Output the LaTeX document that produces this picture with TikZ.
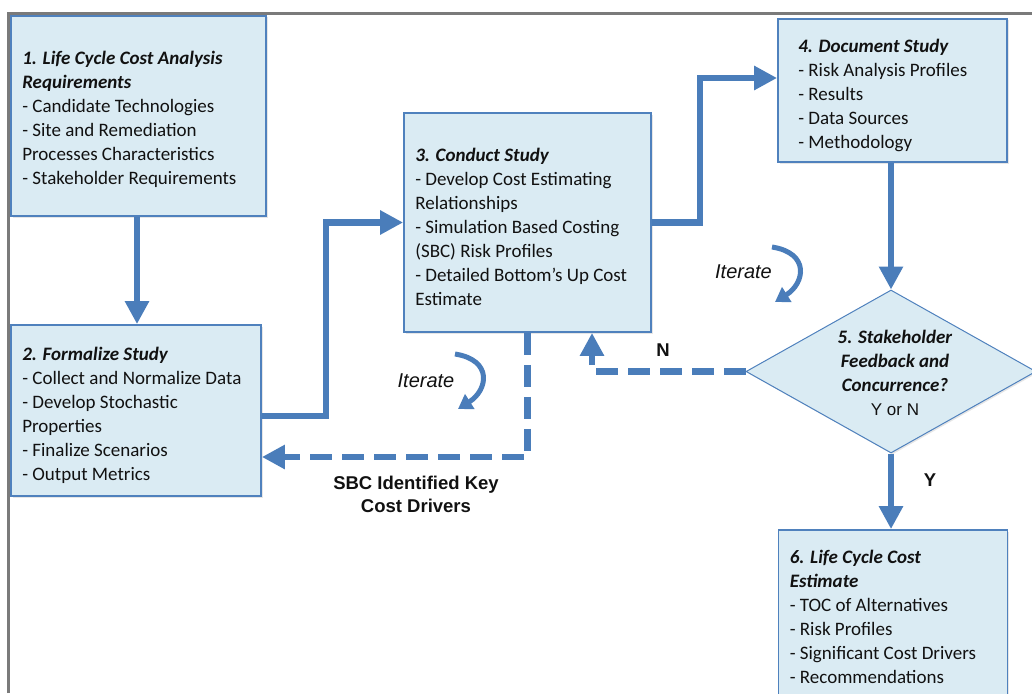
\documentclass[tikz,border=0pt]{standalone}
\usepackage{fontspec}
\setmainfont{Carlito}
\newfontfamily\arialfont{Liberation Sans}
\usetikzlibrary{arrows.meta,shapes.geometric,shadows,calc}

\definecolor{boxfill}{HTML}{DAEBF3}
\definecolor{boxline}{HTML}{4F81BD}
\definecolor{flowblue}{HTML}{4A7DBA}
\definecolor{ink}{HTML}{111111}
\definecolor{framegray}{HTML}{7A7A7A}

\newcommand{\steptitle}[1]{\textbf{\textit{#1}}}

\tikzset{
  stepbox/.style={draw=boxline, fill=boxfill, line width=1.8pt, inner sep=0pt,
    drop shadow={opacity=0.2, shadow xshift=1.5pt, shadow yshift=-1.5pt}},
  steptext/.style={anchor=west, align=left, inner sep=0pt, text=ink,
    font=\fontsize{19}{24}\selectfont},
  decisionbox/.style={diamond, draw=boxline, fill=boxfill, line width=1pt, inner sep=0pt,
    drop shadow={opacity=0.2, shadow xshift=1.5pt, shadow yshift=-1.5pt}},
  flow/.style={draw=flowblue, line width=6.5pt, -{Triangle[length=23pt,width=23pt]}},
  backflow/.style={flow, dash pattern=on 22pt off 10pt},
  sidelabel/.style={text=ink, align=center, inner sep=0pt,
    font=\arialfont\bfseries\fontsize{18.5}{23}\selectfont},
  iterlabel/.style={text=ink, inner sep=0pt,
    font=\arialfont\itshape\fontsize{20}{24}\selectfont},
  iterarrow/.style={draw=flowblue, line width=5pt, -{Triangle[length=14pt,width=17pt]}},
}

\begin{document}
\begin{tikzpicture}[x=1pt, y=-1pt]
  \useasboundingbox (0,0) rectangle (1032,693);

  % outer frame (top and left edges)
  \draw[framegray, line width=3pt] (8,693) -- (8,14) -- (1032,14);

  % process boxes
  \node[stepbox, minimum width=255, minimum height=200] (b1) at (138.5,116) {};
  \node[stepbox, minimum width=250, minimum height=171] (b2) at (136,410.5) {};
  \node[stepbox, minimum width=247, minimum height=219] (b3) at (527.5,222.5) {};
  \node[stepbox, minimum width=229, minimum height=143] (b4) at (892.5,90.5) {};
  \node[stepbox, minimum width=229, minimum height=171] (b6) at (893,615.5) {};
  \node[decisionbox, minimum width=290, minimum height=163] (d5) at (891,371.5) {};

  % box contents
  \node[steptext] (b1t) at ([xshift=12pt,yshift=-3pt]b1.west)
    {\steptitle{1. Life Cycle Cost Analysis}\\
     \steptitle{Requirements}\\
     - Candidate Technologies\\
     - Site and Remediation\\
     Processes Characteristics\\
     - Stakeholder Requirements};
  \node[steptext] (b2t) at ([xshift=12pt,yshift=-5pt]b2.west)
    {\steptitle{2. Formalize Study}\\
     - Collect and Normalize Data\\
     - Develop Stochastic\\
     Properties\\
     - Finalize Scenarios\\
     - Output Metrics};
  \node[steptext] (b3t) at ([xshift=12pt,yshift=-4pt]b3.west)
    {\steptitle{3. Conduct Study}\\
     - Develop Cost Estimating\\
     Relationships\\
     - Simulation Based Costing\\
     (SBC) Risk Profiles\\
     - Detailed Bottom’s Up Cost\\
     Estimate};
  \node[steptext] (b4t) at ([xshift=21pt,yshift=-5pt]b4.west)
    {\steptitle{4. Document Study}\\
     - Risk Analysis Profiles\\
     - Results\\
     - Data Sources\\
     - Methodology};
  \node[steptext] (b6t) at ([xshift=12pt,yshift=-1pt]b6.west)
    {\steptitle{6. Life Cycle Cost}\\
     \steptitle{Estimate}\\
     - TOC of Alternatives\\
     - Risk Profiles\\
     - Significant Cost Drivers\\
     - Recommendations};
  \node[text=ink, align=center, inner sep=0pt, font=\fontsize{19}{24}\selectfont]
    (d5t) at (895,373)
    {\steptitle{5. Stakeholder}\\
     \steptitle{Feedback and}\\
     \steptitle{Concurrence?}\\
     {\arialfont\fontsize{17}{24}\selectfont Y or N}};

  % forward flow
  \draw[flow] (b1.south -| 137,0) -- (b2.north -| 137,0);
  \draw[flow] ([yshift=-5.5pt]b2.east) -- ++(64,0) |- (b3.west);
  \draw[flow] (b3.east) -- ++(48,0) |- ([yshift=12.5pt]b4.west);
  \draw[flow] (b4.south -| d5.north) -- (d5.north);
  \draw[flow] (d5.south) -- (d5.south |- b6.north);

  % feedback flow
  \draw[backflow] (d5.west) -| ([xshift=64.5pt]b3.south);
  \draw[backflow] (b3.south) |- ([yshift=-46.5pt]b2.east);

  % labels
  \node[sidelabel] (lblN) at (663,350) {N};
  \node[sidelabel] (lblY) at (930,480) {Y};
  \node[sidelabel] (lblSBC) at (416,494) {SBC Identified Key\\Cost Drivers};

  % iteration hints
  \node[iterlabel] (it1) at (426,381) {Iterate};
  \node[iterlabel] (it2) at (743.5,272) {Iterate};
  \coordinate (i1s) at (455,354);
  \coordinate (i1e) at (458,409);
  \coordinate (i2s) at (772,247);
  \coordinate (i2e) at (775,302);
  \draw[iterarrow] (i1s) .. controls (493,360) and (488,390) .. (i1e);
  \draw[iterarrow] (i2s) .. controls (810,253) and (805,283) .. (i2e);
\end{tikzpicture}
\end{document}
